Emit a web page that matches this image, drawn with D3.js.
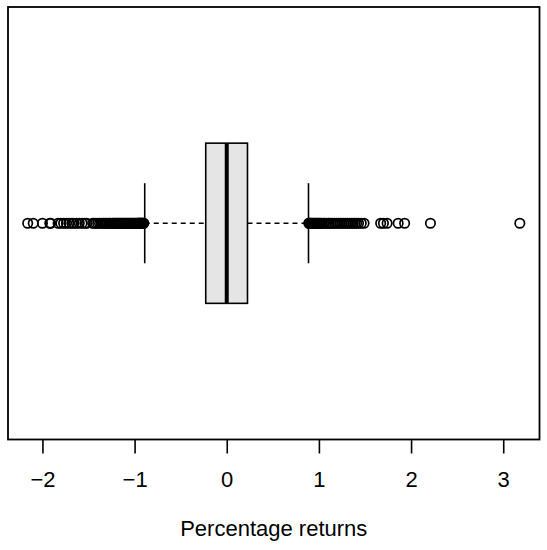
<!DOCTYPE html>
<html>
<head>
<meta charset="utf-8">
<script src="https://cdn.jsdelivr.net/npm/d3@7"></script>
<style>
  html, body { margin: 0; padding: 0; background: #fff; }
  text { font-family: "Liberation Sans", Arial, Helvetica, sans-serif; }
</style>
</head>
<body>
<svg id="chart" width="547" height="550"></svg>
<script>
// ---- Data ----
const boxStats = { whiskerLow: -0.89, q1: -0.228, median: 0.0, q3: 0.225, whiskerHigh: 0.887 };
const outliersLow = [
  -2.16, -2.10, -2.00, -1.92, -1.91, -1.83, -1.80, -1.77, -1.74, -1.71, -1.68, -1.66,
  -1.63, -1.60, -1.57, -1.54, -1.52, -1.455, -1.44, -1.42, -1.40, -1.38, -1.36, -1.34,
  -1.33, -1.31, -1.30, -1.28, -1.27, -1.26, -1.24, -1.23, -1.22, -1.21, -1.20, -1.19,
  -1.18, -1.17, -1.16, -1.15, -1.14, -1.13, -1.12, -1.11, -1.10, -1.09, -1.08, -1.07,
  -1.06, -1.05, -1.04, -1.03, -1.02, -1.01, -1.00, -0.99, -0.98, -0.97, -0.965, -0.96,
  -0.955, -0.95, -0.945, -0.94, -0.935, -0.93, -0.925, -0.92, -0.915, -0.91, -0.905, -0.90
];
const outliersHigh = [
  0.89, 0.895, 0.90, 0.905, 0.91, 0.92, 0.93, 0.94, 0.95, 0.96, 0.97, 0.98, 0.99, 1.00,
  1.01, 1.02, 1.03, 1.05, 1.06, 1.08, 1.10, 1.11, 1.13, 1.15, 1.17, 1.19, 1.21, 1.23,
  1.25, 1.27, 1.29, 1.31, 1.33, 1.35, 1.37, 1.39, 1.41, 1.43, 1.46, 1.49,
  1.67, 1.70, 1.74, 1.86, 1.93, 2.21, 3.18
];
const xTicks = [-2, -1, 0, 1, 2, 3];
const xLabel = "Percentage returns";

// ---- Layout ----
const svg = d3.select("#chart");
const plot = { left: 8, right: 539.5, top: 7, bottom: 439.5 };

const allVals = outliersLow.concat(outliersHigh, [boxStats.whiskerLow, boxStats.whiskerHigh]);
const lo = d3.min(allVals), hi = d3.max(allVals);
const pad = (hi - lo) * 0.04;
const x = d3.scaleLinear().domain([lo - pad, hi + pad]).range([plot.left, plot.right]);
const y = d3.scaleLinear().domain([0.46, 1.54]).range([plot.bottom, plot.top]);

const yc = 1, boxHalf = 0.2, capHalf = 0.1;

const g = svg.append("g");
// whisker dashed lines
[[boxStats.whiskerLow, boxStats.q1], [boxStats.q3, boxStats.whiskerHigh]].forEach(([a, b]) => {
  g.append("line")
    .attr("x1", x(a)).attr("x2", x(b))
    .attr("y1", y(yc)).attr("y2", y(yc))
    .attr("stroke", "#000").attr("stroke-width", 1.4).attr("stroke-dasharray", "5,4");
});

// whisker caps
[boxStats.whiskerLow, boxStats.whiskerHigh].forEach(v => {
  g.append("line")
    .attr("x1", x(v)).attr("x2", x(v))
    .attr("y1", y(yc + capHalf)).attr("y2", y(yc - capHalf))
    .attr("stroke", "#000").attr("stroke-width", 1.6);
});

// box
g.append("rect")
  .attr("x", x(boxStats.q1)).attr("y", y(yc + boxHalf))
  .attr("width", x(boxStats.q3) - x(boxStats.q1))
  .attr("height", y(yc - boxHalf) - y(yc + boxHalf))
  .attr("fill", "#e5e5e5").attr("stroke", "#000").attr("stroke-width", 1.6);

// median
g.append("line")
  .attr("x1", x(boxStats.median)).attr("x2", x(boxStats.median))
  .attr("y1", y(yc + boxHalf)).attr("y2", y(yc - boxHalf))
  .attr("stroke", "#000").attr("stroke-width", 4);

// outliers
g.selectAll("circle.out")
  .data(outliersLow.concat(outliersHigh))
  .enter().append("circle")
  .attr("class", "out")
  .attr("cx", d => x(d)).attr("cy", y(yc))
  .attr("r", 4.7)
  .attr("fill", "none").attr("stroke", "#000").attr("stroke-width", 1.7);

// frame
svg.append("rect")
  .attr("x", plot.left).attr("y", plot.top)
  .attr("width", plot.right - plot.left).attr("height", plot.bottom - plot.top)
  .attr("fill", "none").attr("stroke", "#000").attr("stroke-width", 1.8);

// axis
const axis = d3.axisBottom(x).tickValues(xTicks).tickSize(14).tickPadding(18)
  .tickFormat(d3.format("d"));
const ag = svg.append("g").attr("transform", `translate(0,${plot.bottom})`).call(axis);
ag.select(".domain").remove();
ag.selectAll(".tick line").attr("stroke", "#000").attr("stroke-width", 1.6);
ag.selectAll(".tick text").attr("font-size", 22).attr("fill", "#000")
  .attr("font-family", "'Liberation Sans', Arial, sans-serif");

// x label
svg.append("text")
  .attr("x", (plot.left + plot.right) / 2).attr("y", 536)
  .attr("text-anchor", "middle").attr("font-size", 22).attr("fill", "#000")
  .text(xLabel);
</script>
</body>
</html>
